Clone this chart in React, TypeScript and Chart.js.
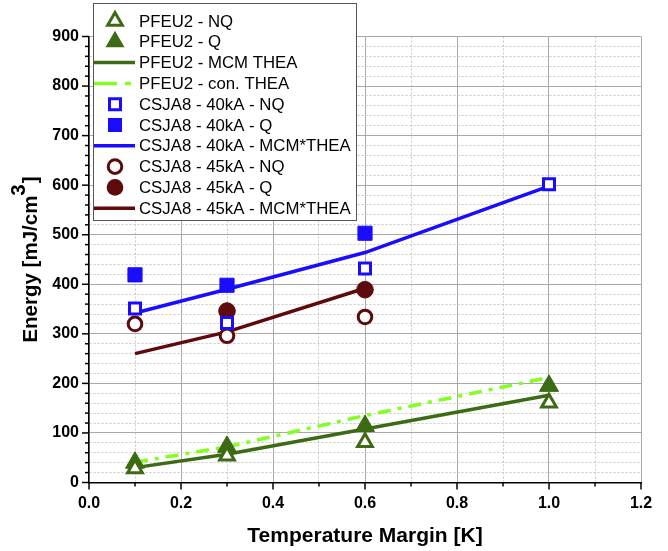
import React, { useEffect, useRef } from 'react';
import { Chart, registerables } from 'chart.js';

Chart.register(...registerables);

// ---- data ----
const pfeuNqX = [0.1, 0.3, 0.6, 1.0];
const pfeuNqY = [28, 54, 81, 161];
const pfeuQX = [0.1, 0.3, 0.6, 1.0];
const pfeuQY = [40, 72, 114, 195];
const pfeuMcmX = [0.1, 0.3, 0.6, 1.0];
const pfeuMcmY = [30, 57, 108, 176];
const pfeuConX = [0.1, 0.3, 0.6, 1.0];
const pfeuConY = [41, 72, 135, 212];
const csja40NqX = [0.1, 0.3, 0.6, 1.0];
const csja40NqY = [351, 322, 432, 602];
const csja40QX = [0.1, 0.3, 0.6];
const csja40QY = [419, 398, 503];
const csja40McmX = [0.1, 0.3, 0.6, 1.0];
const csja40McmY = [342, 390, 464, 598];
const csja45NqX = [0.1, 0.3, 0.6];
const csja45NqY = [320, 296, 334];
const csja45QX = [0.3, 0.6];
const csja45QY = [346, 389];
const csja45McmX = [0.1, 0.3, 0.6];
const csja45McmY = [260, 304, 392];

const seriesLabels = [
  'PFEU2 - NQ',
  'PFEU2 - Q',
  'PFEU2 - MCM THEA',
  'PFEU2 - con. THEA',
  'CSJA8 - 40kA - NQ',
  'CSJA8 - 40kA - Q',
  'CSJA8 - 40kA - MCM*THEA',
  'CSJA8 - 45kA - NQ',
  'CSJA8 - 45kA - Q',
  'CSJA8 - 45kA - MCM*THEA',
];

const X_MIN = 0, X_MAX = 1.2, X_MINOR = 0.1;
const Y_MIN = 0, Y_MAX = 900, Y_MINOR = 20, Y_MAJOR = 100;
const X_TITLE = 'Temperature Margin [K]';
const Y_TITLE_MAIN = 'Energy [mJ/cm';
const Y_TITLE_SUP = '3';
const Y_TITLE_END = ']';

// ---- styles ----
const GREEN = '#3c6b14';
const LIME = '#80ff20';
const BLUE = '#1a0cff';
const MAROON = '#5e0a0c';
const FONT = '"Liberation Sans", Arial, sans-serif';
const DASHDOT = [13, 7, 4, 7];

const pts = (xs: number[], ys: number[]) => xs.map((x, i) => ({ x, y: ys[i] }));

const isMajorX = (v: number) => Math.round(v * 10) % 2 === 0;
const isMajorY = (v: number) => Math.round(v) % Y_MAJOR === 0;

type LegendKind = { kind: string; fill?: boolean; color: string; dash?: boolean };
const legendStyles: LegendKind[] = [
  { kind: 'triangle', fill: false, color: GREEN },
  { kind: 'triangle', fill: true, color: GREEN },
  { kind: 'line', color: GREEN },
  { kind: 'line', color: LIME, dash: true },
  { kind: 'rect', fill: false, color: BLUE },
  { kind: 'rect', fill: true, color: BLUE },
  { kind: 'line', color: BLUE },
  { kind: 'circle', fill: false, color: MAROON },
  { kind: 'circle', fill: true, color: MAROON },
  { kind: 'line', color: MAROON },
];

function drawMarker(ctx: CanvasRenderingContext2D, kind: string, fill: boolean, color: string, cx: number, cy: number) {
  ctx.save();
  ctx.lineWidth = 3;
  ctx.strokeStyle = color;
  ctx.fillStyle = fill ? color : '#fff';
  ctx.beginPath();
  if (kind === 'triangle') {
    const r = fill ? 11 : 8.5;
    ctx.moveTo(cx, cy - r);
    ctx.lineTo(cx + 0.866 * r, cy + 0.5 * r);
    ctx.lineTo(cx - 0.866 * r, cy + 0.5 * r);
    ctx.closePath();
  } else if (kind === 'rect') {
    const h = fill ? 7 : 5.5;
    ctx.rect(cx - h, cy - h, 2 * h, 2 * h);
  } else {
    const r = fill ? 8.3 : 6.8;
    ctx.arc(cx, cy, r, 0, Math.PI * 2);
  }
  ctx.fill();
  if (!fill) ctx.stroke();
  ctx.restore();
}

const decorPlugin = {
  id: 'decor',
  afterDraw(chart: any) {
    const { ctx } = chart;
    const xs = chart.scales.x;
    const ys = chart.scales.y;
    ctx.save();
    // tick marks (major and minor, outward)
    ctx.strokeStyle = '#000';
    ctx.lineWidth = 1.5;
    const nY = Math.round((Y_MAX - Y_MIN) / Y_MINOR);
    for (let i = 0; i <= nY; i++) {
      const v = Y_MIN + i * Y_MINOR;
      const py = ys.getPixelForValue(v);
      const len = isMajorY(v) ? 7 : 4;
      ctx.beginPath();
      ctx.moveTo(xs.left - len, py);
      ctx.lineTo(xs.left, py);
      ctx.stroke();
    }
    const nX = Math.round((X_MAX - X_MIN) / X_MINOR);
    for (let i = 0; i <= nX; i++) {
      const v = X_MIN + i * X_MINOR;
      const px = xs.getPixelForValue(v);
      const len = isMajorX(v) ? 7 : 4;
      ctx.beginPath();
      ctx.moveTo(px, ys.bottom);
      ctx.lineTo(px, ys.bottom + len);
      ctx.stroke();
    }

    // y-axis title with raised superscript
    ctx.save();
    const tFont = `bold 20.5px ${FONT}`;
    ctx.font = tFont;
    const w1 = ctx.measureText(Y_TITLE_MAIN).width;
    const w2 = ctx.measureText(Y_TITLE_SUP).width;
    const w3 = ctx.measureText(Y_TITLE_END).width;
    const total = w1 + w2 + w3 + 1;
    const cy = (ys.top + ys.bottom) / 2;
    ctx.translate(37, cy);
    ctx.rotate(-Math.PI / 2);
    ctx.fillStyle = '#000';
    ctx.textBaseline = 'alphabetic';
    ctx.textAlign = 'left';
    const sx = -total / 2;
    ctx.fillText(Y_TITLE_MAIN, sx, 0);
    ctx.fillText(Y_TITLE_SUP, sx + w1, -12);
    ctx.fillText(Y_TITLE_END, sx + w1 + w2 + 1, 0);
    ctx.restore();

    // legend box
    const bx = 93, by = 3, bw = 263, bh = 217;
    ctx.fillStyle = '#fff';
    ctx.fillRect(bx, by, bw, bh);
    ctx.strokeStyle = '#555';
    ctx.lineWidth = 1;
    ctx.strokeRect(bx + 0.5, by + 0.5, bw, bh);
    const rowH = 20.8;
    const y0 = 21;
    ctx.font = `16.8px ${FONT}`;
    ctx.textBaseline = 'middle';
    ctx.textAlign = 'left';
    legendStyles.forEach((st, i) => {
      const ly = y0 + i * rowH;
      if (st.kind === 'line') {
        ctx.save();
        ctx.strokeStyle = st.color;
        ctx.lineWidth = 3.5;
        ctx.setLineDash(st.dash ? [23, 8, 6, 8] : []);
        ctx.beginPath();
        ctx.moveTo(94, ly);
        ctx.lineTo(135, ly);
        ctx.stroke();
        ctx.restore();
      } else {
        drawMarker(ctx, st.kind, !!st.fill, st.color, 115, ly);
      }
      ctx.fillStyle = '#000';
      ctx.fillText(seriesLabels[i], 139, ly + 1);
    });
    ctx.restore();
  },
};

export default function App() {
  const ref = useRef<HTMLCanvasElement>(null);
  useEffect(() => {
    document.body.style.margin = '0';
    const canvas = ref.current;
    if (!canvas) return;

    const lineDs = (label: string, xs: number[], ys: number[], color: string, dash?: number[]) => ({
      label,
      data: pts(xs, ys),
      showLine: true,
      borderColor: color,
      backgroundColor: color,
      borderWidth: 3.5,
      borderDash: dash || [],
      pointRadius: 0,
      order: 2,
    });
    const markDs = (label: string, xs: number[], ys: number[], style: string, r: number, color: string, fill: boolean) => ({
      label,
      data: pts(xs, ys),
      showLine: false,
      pointStyle: style,
      pointRadius: r,
      pointBackgroundColor: fill ? color : '#fff',
      pointBorderColor: color,
      pointBorderWidth: fill ? 1 : 3,
      order: 1,
    });

    const chart = new Chart(canvas, {
      type: 'scatter',
      data: {
        datasets: [
          lineDs(seriesLabels[2], pfeuMcmX, pfeuMcmY, GREEN),
          lineDs(seriesLabels[3], pfeuConX, pfeuConY, LIME, DASHDOT),
          lineDs(seriesLabels[6], csja40McmX, csja40McmY, BLUE),
          lineDs(seriesLabels[9], csja45McmX, csja45McmY, MAROON),
          markDs(seriesLabels[0], pfeuNqX, pfeuNqY, 'triangle', 8.5, GREEN, false),
          markDs(seriesLabels[1], pfeuQX, pfeuQY, 'triangle', 11, GREEN, true),
          markDs(seriesLabels[4], csja40NqX, csja40NqY, 'rect', 7.8, BLUE, false),
          markDs(seriesLabels[5], csja40QX, csja40QY, 'rect', 10, BLUE, true),
          markDs(seriesLabels[7], csja45NqX, csja45NqY, 'circle', 6.8, MAROON, false),
          markDs(seriesLabels[8], csja45QX, csja45QY, 'circle', 8.3, MAROON, true),
        ] as any,
      },
      options: {
        animation: false,
        responsive: false,
        events: [],
        layout: { padding: { top: 36.5, right: 27, left: 0, bottom: 0 } },
        plugins: { legend: { display: false }, tooltip: { enabled: false } },
        scales: {
          x: {
            type: 'linear',
            min: X_MIN,
            max: X_MAX,
            afterFit: (s: any) => { s.height = 68.5; },
            ticks: {
              stepSize: X_MINOR,
              autoSkip: false,
              maxRotation: 0,
              padding: 11,
              color: '#000',
              font: { family: FONT, size: 16, weight: 'bold' },
              callback: (v: any) => (isMajorX(Number(v)) ? Number(v).toFixed(1) : ''),
            },
            grid: {
              drawTicks: false,
              color: (c: any) => (c.tick && isMajorX(c.tick.value) ? '#a8a8a8' : '#c8c8c8'),
              lineWidth: 1,
            },
            border: {
              display: true,
              color: '#000',
              width: 1.5,
              dash: (c: any) => (c.type === 'tick' && c.tick && !isMajorX(c.tick.value) ? [2, 2] : []),
            },
            title: {
              display: true,
              text: X_TITLE,
              color: '#000',
              font: { family: FONT, size: 21, weight: 'bold' },
              padding: { top: 0, bottom: 2 },
            },
          },
          y: {
            type: 'linear',
            min: Y_MIN,
            max: Y_MAX,
            afterFit: (s: any) => { s.width = 89; },
            ticks: {
              stepSize: Y_MINOR,
              autoSkip: false,
              padding: 10,
              color: '#000',
              font: { family: FONT, size: 16, weight: 'bold' },
              callback: (v: any) => (isMajorY(Number(v)) ? String(v) : ''),
            },
            grid: {
              drawTicks: false,
              color: (c: any) => (c.tick && isMajorY(c.tick.value) ? '#a8a8a8' : '#c8c8c8'),
              lineWidth: 1,
            },
            border: {
              display: true,
              color: '#000',
              width: 1.5,
              dash: (c: any) => (c.type === 'tick' && c.tick && !isMajorY(c.tick.value) ? [2, 2] : []),
            },
            title: { display: false },
          },
        },
      } as any,
      plugins: [decorPlugin],
    });
    return () => chart.destroy();
  }, []);

  return (
    <div style={{ position: 'absolute', left: 0, top: 0, width: 668, height: 551 }}>
      <canvas ref={ref} width={668} height={551} />
    </div>
  );
}
